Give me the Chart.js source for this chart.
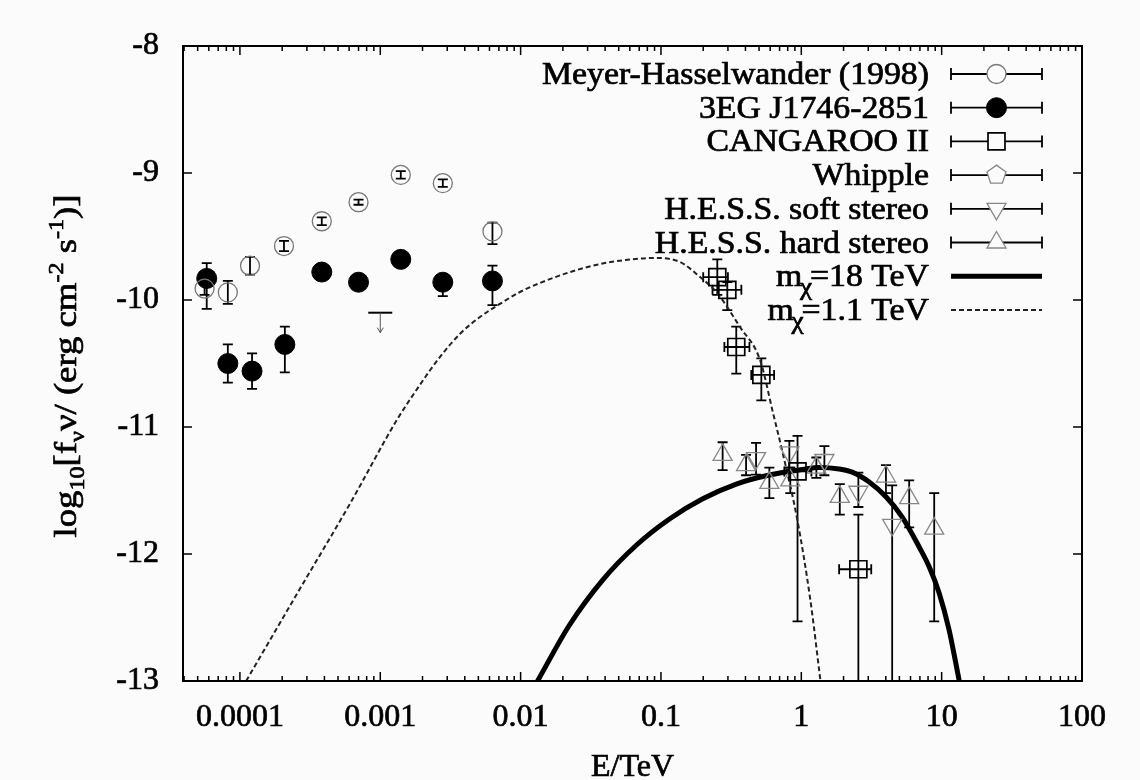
<!DOCTYPE html>
<html>
<head>
<meta charset="UTF-8">
<title>Galactic centre gamma-ray SED</title>
<script src="https://cdn.jsdelivr.net/npm/chart.js@4.4.1/dist/chart.umd.min.js"></script>
<style>
  html, body { margin: 0; padding: 0; background: #fbfbfb; }
  #wrap { width: 1140px; height: 780px; }
</style>
</head>
<body>
<div id="wrap"><canvas id="sed" width="1140" height="780"></canvas></div>
<script>
// ---------- data (E in TeV, flux as log10 of erg cm^-2 s^-1) ----------
// Meyer-Hasselwander (1998)
const mhE     = [5.6e-5, 8.2e-5, 1.18e-4, 2.06e-4, 3.83e-4, 7.0e-4, 1.40e-3, 2.79e-3, 6.3e-3];
const mhF     = [-9.91, -9.94, -9.73, -9.575, -9.38, -9.23, -9.015, -9.08, -9.46];
const mhErrUp = [0.05, 0.09, 0.07, 0.04, 0.03, 0.02, 0.03, 0.03, 0.07];
const mhErrDn = [0.05, 0.09, 0.07, 0.04, 0.03, 0.02, 0.03, 0.03, 0.10];

// 3EG J1746-2851
const egE     = [5.8e-5, 8.2e-5, 1.22e-4, 2.09e-4, 3.83e-4, 7.0e-4, 1.40e-3, 2.79e-3, 6.3e-3];
const egF     = [-9.83, -10.50, -10.56, -10.35, -9.78, -9.86, -9.68, -9.86, -9.85];
const egErrUp = [0.12, 0.15, 0.14, 0.14, 0.03, 0.03, 0.03, 0.03, 0.12];
const egErrDn = [0.24, 0.15, 0.14, 0.22, 0.03, 0.03, 0.03, 0.11, 0.19];
const egLimitE = [1.0e-3];
const egLimitF = [-10.10];

// CANGAROO II
const cgE     = [0.252, 0.297, 0.344, 0.519, 0.94, 2.55];
const cgF     = [-9.82, -9.92, -10.37, -10.59, -11.35, -12.12];
const cgErrUp = [0.14, 0.06, 0.16, 0.13, 0.28, 0.43];
const cgErrDn = [0.14, 0.16, 0.21, 0.20, 1.18, 1.5];
const cgElo   = [0.20, 0.233, 0.283, 0.44, 0.757, 1.86];
const cgEhi   = [0.30, 0.374, 0.427, 0.64, 1.18, 3.15];

// Whipple (no point visible inside the plotted range)
const whE = [];
const whF = [];

// H.E.S.S. soft stereo
const hsE     = [0.476, 0.822, 1.46, 2.55, 4.44];
const hsF     = [-11.245, -11.20, -11.26, -11.51, -11.77];
const hsErrUp = [0.12, 0.09, 0.11, 0.15, 0.31];
const hsErrDn = [0.13, 0.12, 0.12, 0.12, 1.5];

// H.E.S.S. hard stereo
const hhE     = [0.275, 0.404, 0.592, 0.835, 1.28, 1.88, 4.01, 5.87, 8.85];
const hhF     = [-11.22, -11.30, -11.44, -11.42, -11.32, -11.55, -11.39, -11.56, -11.80];
const hhErrUp = [0.10, 0.08, 0.12, 0.10, 0.08, 0.10, 0.09, 0.14, 0.28];
const hhErrDn = [0.12, 0.08, 0.12, 0.10, 0.08, 0.14, 0.13, 0.23, 0.73];

// model curves
const m18E = [0.0132, 0.0223, 0.0384, 0.067, 0.115, 0.197, 0.344, 0.592, 1.016, 1.343, 1.862, 2.307,
              3.048, 4.027, 5.236, 6.918, 8.147, 9.594, 11.30, 12.62, 13.34];
const m18F = [-13.0, -12.559, -12.205, -11.929, -11.724, -11.567, -11.449, -11.378, -11.335, -11.318, -11.33, -11.355,
              -11.433, -11.551, -11.709, -11.945, -12.10, -12.307, -12.598, -12.861, -13.0];
const m11E = [1.107e-4, 2.67e-4, 6.07e-4, 1.312e-3, 1.914e-3, 2.66e-3, 3.69e-3, 5.13e-3, 7.12e-3, 9.89e-3,
              0.01374, 0.0225, 0.0368, 0.0603, 0.0908, 0.1368, 0.190, 0.251, 0.366, 0.508, 0.629, 0.737,
              0.937, 1.16, 1.37];
const m11F = [-13.0, -12.276, -11.606, -10.945, -10.669, -10.449, -10.268, -10.134, -10.031, -9.937,
              -9.866, -9.780, -9.717, -9.681, -9.669, -9.701, -9.819, -9.945, -10.213, -10.472, -10.890, -11.205,
              -11.732, -12.362, -13.0];

// axes
const xMin = 3.93e-5, xMax = 100;
const xTickValues = [1e-4, 1e-3, 1e-2, 0.1, 1, 10, 100];
const xTickLabels = ['0.0001', '0.001', '0.01', '0.1', '1', '10', '100'];
const yTickValues = [-13, -12, -11, -10, -9, -8];
const yTickLabels = ['-13', '-12', '-11', '-10', '-9', '-8'];

const SERIF = "'Liberation Serif', 'DejaVu Serif', serif";
const CAP = 5;
const BG = '#fbfbfb';

const pts = (xs, ys) => xs.map((v, i) => ({ x: v, y: ys[i] }));

// fill + thin stroke, to get the slightly heavy look of the original
function heavyText(ctx, s, x, y) {
  ctx.fillText(s, x, y);
  ctx.strokeText(s, x, y);
}

// ---------- plugins ----------
const errorBars = {
  id: 'errorBars',
  beforeDatasetsDraw(chart) {
    const { ctx, chartArea: a, scales: { x, y } } = chart;
    ctx.save();
    ctx.beginPath();
    ctx.rect(a.left, a.top, a.right - a.left, a.bottom - a.top);
    ctx.clip();
    ctx.strokeStyle = '#000';
    ctx.lineWidth = 1.8;
    chart.data.datasets.forEach(ds => {
      if (!ds.errUp) return;
      ds.data.forEach((p, i) => {
        const px = x.getPixelForValue(p.x), py = y.getPixelForValue(p.y);
        const top = y.getPixelForValue(p.y + ds.errUp[i]);
        const bot = y.getPixelForValue(p.y - ds.errDn[i]);
        ctx.beginPath();
        ctx.moveTo(px, top); ctx.lineTo(px, bot);
        ctx.moveTo(px - CAP, top); ctx.lineTo(px + CAP, top);
        ctx.moveTo(px - CAP, bot); ctx.lineTo(px + CAP, bot);
        if (ds.eLo) {
          const l = x.getPixelForValue(ds.eLo[i]), r = x.getPixelForValue(ds.eHi[i]);
          ctx.moveTo(l, py); ctx.lineTo(r, py);
          ctx.moveTo(l, py - CAP); ctx.lineTo(l, py + CAP);
          ctx.moveTo(r, py - CAP); ctx.lineTo(r, py + CAP);
        }
        ctx.stroke();
      });
    });
    // upper limit(s)
    egLimitE.forEach((e, i) => {
      const px = x.getPixelForValue(e), py = y.getPixelForValue(egLimitF[i]);
      ctx.lineWidth = 2;
      ctx.strokeStyle = '#000';
      ctx.beginPath();
      ctx.moveTo(px - 12, py); ctx.lineTo(px + 12, py);
      ctx.stroke();
      ctx.lineWidth = 1;
      ctx.strokeStyle = '#555';
      ctx.beginPath();
      ctx.moveTo(px, py); ctx.lineTo(px, py + 20);
      ctx.moveTo(px - 3, py + 15); ctx.lineTo(px, py + 20); ctx.lineTo(px + 3, py + 15);
      ctx.stroke();
    });
    ctx.restore();
  }
};

function pentagon(ctx, cx, cy, r) {
  ctx.beginPath();
  for (let k = 0; k < 5; k++) {
    const ang = -Math.PI / 2 + k * 2 * Math.PI / 5;
    const px = cx + r * Math.cos(ang), py = cy + r * Math.sin(ang);
    if (k === 0) ctx.moveTo(px, py); else ctx.lineTo(px, py);
  }
  ctx.closePath();
}

const frameAndText = {
  id: 'frameAndText',
  afterDraw(chart) {
    const { ctx, chartArea: a, scales: { x, y } } = chart;
    ctx.save();
    // frame
    ctx.strokeStyle = '#000';
    ctx.lineWidth = 2;
    ctx.strokeRect(a.left, a.top, a.right - a.left, a.bottom - a.top);
    // inward ticks, mirrored on top and right
    ctx.lineWidth = 1.5;
    ctx.beginPath();
    for (let d = -5; d <= 2; d++) {
      for (let k = 1; k <= 9; k++) {
        const v = k * Math.pow(10, d);
        if (v < xMin || v > xMax) continue;
        const px = x.getPixelForValue(v);
        const len = k === 1 ? 9 : 5;
        ctx.moveTo(px, a.bottom); ctx.lineTo(px, a.bottom - len);
        ctx.moveTo(px, a.top); ctx.lineTo(px, a.top + len);
      }
    }
    yTickValues.forEach(v => {
      const py = y.getPixelForValue(v);
      ctx.moveTo(a.left, py); ctx.lineTo(a.left + 9, py);
      ctx.moveTo(a.right, py); ctx.lineTo(a.right - 9, py);
    });
    ctx.stroke();

    ctx.fillStyle = '#000';
    ctx.strokeStyle = '#000';
    ctx.lineWidth = 0.7;
    // x title
    ctx.font = '32px ' + SERIF;
    ctx.textAlign = 'center';
    ctx.textBaseline = 'alphabetic';
    heavyText(ctx, 'E/TeV', (a.left + a.right) / 2, 776);

    // y title, rotated, with sub/superscripts
    const parts = [
      ['log', 0], ['10', 1], ['[f', 0], ['\u03bd', 1], ['\u03bd/ (erg cm', 0],
      ['-2', -1], [' s', 0], ['-1', -1], [')]', 0]
    ];
    const big = '32px ' + SERIF, small = '21px ' + SERIF;
    let total = 0;
    parts.forEach(p => { ctx.font = p[1] ? small : big; total += ctx.measureText(p[0]).width; });
    ctx.save();
    ctx.translate(76, 366);
    ctx.rotate(-Math.PI / 2);
    ctx.scale(343 / total, 1);
    ctx.textAlign = 'left';
    let cx = -total / 2;
    parts.forEach(p => {
      ctx.font = p[1] ? small : big;
      const dy = p[1] === 1 ? 8 : (p[1] === -1 ? -13 : 0);
      heavyText(ctx, p[0], cx, dy);
      cx += ctx.measureText(p[0]).width;
    });
    ctx.restore();

    // legend
    ctx.font = '31px ' + SERIF;
    const sx = 387 / ctx.measureText(chart.data.datasets[0].label).width;
    const textRight = 929, symL = 951, symR = 1042, symC = 996.5;
    chart.data.datasets.forEach((ds, i) => {
      const ry = 74 + 33.7 * i;
      // label
      ctx.save();
      ctx.translate(textRight, ry + 10);
      ctx.scale(sx, 1);
      ctx.textAlign = 'right';
      ctx.fillStyle = '#000';
      ctx.strokeStyle = '#000';
      ctx.lineWidth = 0.7;
      if (ds.label.startsWith('m\u03c7')) {
        const rest = ds.label.slice(2);
        ctx.font = '31px ' + SERIF;
        const wRest = ctx.measureText(rest).width;
        heavyText(ctx, rest, 0, 0);
        ctx.font = '25px ' + SERIF;
        const wChi = ctx.measureText('\u03c7').width;
        heavyText(ctx, '\u03c7', -wRest + 2, 9);
        ctx.font = '31px ' + SERIF;
        heavyText(ctx, 'm', -wRest - wChi + 4, 0);
      } else {
        ctx.font = '31px ' + SERIF;
        heavyText(ctx, ds.label, 0, 0);
      }
      ctx.restore();
      // symbol
      ctx.save();
      if (ds.showLine) {
        ctx.strokeStyle = ds.borderColor;
        ctx.lineWidth = ds.borderWidth;
        ctx.setLineDash(ds.borderDash || []);
        ctx.beginPath();
        ctx.moveTo(symL, ry); ctx.lineTo(symR, ry);
        ctx.stroke();
      } else {
        ctx.strokeStyle = '#000';
        ctx.lineWidth = 1.8;
        ctx.beginPath();
        ctx.moveTo(symL, ry); ctx.lineTo(symR, ry);
        ctx.moveTo(symL, ry - 6); ctx.lineTo(symL, ry + 6);
        ctx.moveTo(symR, ry - 6); ctx.lineTo(symR, ry + 6);
        ctx.stroke();
        ctx.strokeStyle = ds.pointBorderColor;
        ctx.lineWidth = ds.pointBorderWidth;
        if (ds.legendShape === 'pentagon') {
          ctx.fillStyle = BG;
          pentagon(ctx, symC, ry, 10);
          ctx.fill();
          ctx.stroke();
        } else {
          ctx.fillStyle = ds.pointBackgroundColor === 'rgba(0,0,0,0)' ? BG : ds.pointBackgroundColor;
          Chart.helpers.drawPoint(ctx, {
            pointStyle: ds.pointStyle, rotation: ds.pointRotation || 0,
            radius: ds.pointRadius, borderWidth: ds.pointBorderWidth
          }, symC, ry);
        }
      }
      ctx.restore();
    });
    ctx.restore();
  }
};

// ---------- chart ----------
const openMarker = 'rgba(0,0,0,0)';
const tickFont = { family: SERIF, size: 32 };
new Chart(document.getElementById('sed'), {
  type: 'scatter',
  data: {
    datasets: [
      { label: 'Meyer-Hasselwander (1998)', data: pts(mhE, mhF), errUp: mhErrUp, errDn: mhErrDn,
        pointStyle: 'circle', pointRadius: 9.5, pointBorderWidth: 1.3,
        pointBorderColor: '#777', pointBackgroundColor: openMarker },
      { label: '3EG J1746-2851', data: pts(egE, egF), errUp: egErrUp, errDn: egErrDn,
        pointStyle: 'circle', pointRadius: 10, pointBorderWidth: 1,
        pointBorderColor: '#000', pointBackgroundColor: '#000' },
      { label: 'CANGAROO II', data: pts(cgE, cgF), errUp: cgErrUp, errDn: cgErrDn, eLo: cgElo, eHi: cgEhi,
        pointStyle: 'rect', pointRadius: 12, pointBorderWidth: 1.7,
        pointBorderColor: '#000', pointBackgroundColor: openMarker },
      { label: 'Whipple', data: pts(whE, whF), errUp: [], errDn: [], legendShape: 'pentagon',
        pointStyle: 'circle', pointRadius: 10, pointBorderWidth: 1.3,
        pointBorderColor: '#888', pointBackgroundColor: openMarker },
      { label: 'H.E.S.S. soft stereo', data: pts(hsE, hsF), errUp: hsErrUp, errDn: hsErrDn,
        pointStyle: 'triangle', pointRotation: 180, pointRadius: 11, pointBorderWidth: 1.3,
        pointBorderColor: '#888', pointBackgroundColor: openMarker },
      { label: 'H.E.S.S. hard stereo', data: pts(hhE, hhF), errUp: hhErrUp, errDn: hhErrDn,
        pointStyle: 'triangle', pointRadius: 11, pointBorderWidth: 1.3,
        pointBorderColor: '#888', pointBackgroundColor: openMarker },
      { label: 'm\u03c7=18 TeV', data: pts(m18E, m18F), showLine: true, pointRadius: 0,
        borderColor: '#000', borderWidth: 5, cubicInterpolationMode: 'monotone' },
      { label: 'm\u03c7=1.1 TeV', data: pts(m11E, m11F), showLine: true, pointRadius: 0,
        borderColor: '#222', borderWidth: 2, borderDash: [5, 3], cubicInterpolationMode: 'monotone' }
    ]
  },
  options: {
    responsive: false,
    animation: false,
    events: [],
    layout: { padding: { left: 0, right: 58, top: 46, bottom: 0 } },
    plugins: { legend: { display: false }, tooltip: { enabled: false } },
    scales: {
      x: {
        type: 'logarithmic', min: xMin, max: xMax,
        grid: { display: false }, border: { display: false },
        afterBuildTicks: s => { s.ticks = xTickValues.map(v => ({ value: v })); },
        afterFit: s => { s.height = 99; },
        ticks: {
          autoSkip: false, maxRotation: 0, minRotation: 0, padding: 9, color: '#000',
          textStrokeColor: '#000', textStrokeWidth: 0.7,
          font: tickFont,
          callback: (v, i) => xTickLabels[i]
        }
      },
      y: {
        type: 'linear', min: -13, max: -8,
        grid: { display: false }, border: { display: false },
        afterBuildTicks: s => { s.ticks = yTickValues.map(v => ({ value: v })); },
        afterFit: s => { s.width = 183; },
        ticks: {
          padding: 16, color: '#000',
          textStrokeColor: '#000', textStrokeWidth: 0.7,
          font: tickFont,
          callback: (v, i) => yTickLabels[i]
        }
      }
    }
  },
  plugins: [errorBars, frameAndText]
});
</script>
</body>
</html>
